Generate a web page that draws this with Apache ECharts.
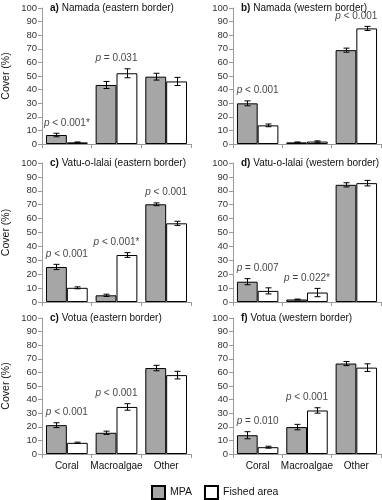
<!DOCTYPE html>
<html>
<head>
<meta charset="utf-8">
<script src="https://cdn.jsdelivr.net/npm/echarts@6/dist/echarts.min.js"></script>
<style>
html,body{margin:0;padding:0;background:#fff;}
#chart{width:382px;height:500px;}
</style>
</head>
<body>
<div id="chart"></div>
<script>
// ---- data ----
const categories = ['Coral', 'Macroalgae', 'Other'];
const yTicks = [0, 100, 10]; // min, max, interval

const titleTags = ['a)', 'b)', 'c)', 'd)', 'c)', 'f)'];
const titleTexts = ['Namada (eastern border)', 'Namada (western border)',
  'Vatu-o-lalai (eastern border)', 'Vatu-o-lalai (western border)',
  'Votua (eastern border)', 'Votua (western border)'];

// a) Namada east
const mpaA = [6.6, 43.4, 49.5],  mpaErrA = [1.3, 2.6, 2.5];
const fishA = [1.2, 52.0, 46.0], fishErrA = [0.3, 3.3, 3.0];
const pTextA = ['< 0.001*', '= 0.031', null];
// b) Namada west
const mpaB = [29.9, 1.2, 69.0],  mpaErrB = [1.8, 0.3, 1.5];
const fishB = [13.7, 1.8, 85.0], fishErrB = [1.0, 0.5, 1.5];
const pTextB = ['< 0.001', null, '< 0.001'];
// c) Vatu-o-lalai east
const mpaC = [25.2, 4.8, 70.3],  mpaErrC = [1.9, 0.8, 1.0];
const fishC = [10.2, 33.8, 56.6], fishErrC = [0.7, 1.7, 1.5];
const pTextC = ['< 0.001', '< 0.001*', '< 0.001'];
// d) Vatu-o-lalai west
const mpaD = [14.6, 1.8, 84.3],  mpaErrD = [2.2, 0.3, 1.5];
const fishD = [8.0, 6.8, 85.5],  fishErrD = [2.2, 3.0, 2.0];
const pTextD = ['= 0.007', '= 0.022*', null];
// e) Votua east
const mpaE = [21.2, 15.6, 63.2], mpaErrE = [1.8, 1.2, 2.0];
const fishE = [8.2, 34.6, 58.0], fishErrE = [0.5, 2.4, 2.8];
const pTextE = ['< 0.001', '< 0.001', null];
// f) Votua west
const mpaF = [13.8, 19.8, 66.5], mpaErrF = [2.6, 2.0, 1.5];
const fishF = [5.0, 32.0, 63.5], fishErrF = [0.7, 2.0, 2.8];
const pTextF = ['= 0.010', '< 0.001', null];

const panels = [
  [mpaA, mpaErrA, fishA, fishErrA, pTextA],
  [mpaB, mpaErrB, fishB, fishErrB, pTextB],
  [mpaC, mpaErrC, fishC, fishErrC, pTextC],
  [mpaD, mpaErrD, fishD, fishErrD, pTextD],
  [mpaE, mpaErrE, fishE, fishErrE, pTextE],
  [mpaF, mpaErrF, fishF, fishErrF, pTextF]
];

// ---- layout ----
const FONT = "'Liberation Sans', Arial, sans-serif";
const GRAY = '#a6a6a6';
const AXIS = '#9a9a9a';
const colLeft = [42, 233], colWidth = [149, 148];
const rowTop = [8, 163, 318], rowHeight = [136, 139, 136];
const titleTop = [3, 158, 313];

const grids = [], xAxes = [], yAxes = [], series = [], titles = [];

function errRender(params, api) {
  const ci = api.value(0), v = api.value(1), e = api.value(2), side = api.value(3);
  const band = api.size([1, 0])[0];
  const bw = band * 0.84 / 2;
  const c = api.coord([ci, v]);
  const cx = Math.round(c[0] + (side === 0 ? -bw / 2 : bw / 2)) + 0.5;
  const top = api.coord([ci, v + e])[1];
  const bot = api.coord([ci, Math.max(0, v - e)])[1];
  const cap = 3;
  const st = { stroke: '#000', lineWidth: 1 };
  return {
    type: 'group',
    children: [
      { type: 'line', shape: { x1: cx, y1: top, x2: cx, y2: bot }, style: st },
      { type: 'line', shape: { x1: cx - cap, y1: top, x2: cx + cap, y2: top }, style: st },
      { type: 'line', shape: { x1: cx - cap, y1: bot, x2: cx + cap, y2: bot }, style: st }
    ]
  };
}

panels.forEach((p, i) => {
  const row = Math.floor(i / 2), col = i % 2;
  const [mpa, mpaErr, fish, fishErr, pText] = p;
  grids.push({ left: colLeft[col], width: colWidth[col], top: rowTop[row], height: rowHeight[row] });
  titles.push({
    text: '{b|' + titleTags[i] + '} ' + titleTexts[i],
    left: colLeft[col] + 8, top: titleTop[row], padding: 0,
    textStyle: { fontFamily: FONT, fontSize: 10, fontWeight: 'normal', color: '#111',
      rich: { b: { fontFamily: FONT, fontSize: 10, fontWeight: 'bold', color: '#111' } } }
  });
  xAxes.push({
    type: 'category', gridIndex: i, data: categories,
    axisLine: { lineStyle: { color: AXIS, width: 1 } },
    axisTick: { show: true, length: 4, lineStyle: { color: AXIS } },
    axisLabel: { show: row === 2, interval: 0, hideOverlap: false, fontFamily: FONT, fontSize: 10, color: '#111', margin: 7 }
  });
  yAxes.push({
    type: 'value', gridIndex: i, min: yTicks[0], max: yTicks[1], interval: yTicks[2],
    name: col === 0 ? 'Cover (%)' : '', nameLocation: 'middle', nameGap: 30,
    nameTextStyle: { fontFamily: FONT, fontSize: 10.5, color: '#111' },
    axisLine: { show: true, lineStyle: { color: AXIS, width: 1 } },
    axisTick: { show: true, length: 4, lineStyle: { color: AXIS } },
    axisLabel: { fontFamily: FONT, fontSize: 9.5, color: '#333', margin: 5 },
    splitLine: { show: false }
  });
  series.push({
    name: 'MPA', type: 'bar', xAxisIndex: i, yAxisIndex: i, data: mpa,
    barGap: '0%', barCategoryGap: '16%',
    itemStyle: { color: GRAY, borderColor: '#000', borderWidth: 1 }
  });
  series.push({
    name: 'Fished area', type: 'bar', xAxisIndex: i, yAxisIndex: i, data: fish,
    barGap: '0%', barCategoryGap: '16%',
    itemStyle: { color: '#fff', borderColor: '#000', borderWidth: 1 }
  });
  const errData = [];
  categories.forEach((c, k) => {
    errData.push([k, mpa[k], mpaErr[k], 0]);
    errData.push([k, fish[k], fishErr[k], 1]);
  });
  series.push({
    type: 'custom', xAxisIndex: i, yAxisIndex: i, renderItem: errRender,
    data: errData, z: 5, silent: true
  });
  const lblData = [];
  pText.forEach((t, k) => {
    if (t) {
      const topV = Math.max(mpa[k] + mpaErr[k], fish[k] + fishErr[k]);
      lblData.push([k, topV + 7.5, t]);
    }
  });
  series.push({
    type: 'scatter', xAxisIndex: i, yAxisIndex: i, symbolSize: 0, data: lblData, silent: true,
    label: {
      show: true, position: 'inside', fontFamily: FONT, fontSize: 10, color: '#111',
      formatter: (q) => '{i|p} ' + q.data[2],
      rich: { i: { fontStyle: 'italic', fontFamily: FONT, fontSize: 10, color: '#111' } }
    }
  });
});

const chart = echarts.init(document.getElementById('chart'), null, { renderer: 'canvas' });
chart.setOption({
  animation: false,
  backgroundColor: '#fff',
  title: titles,
  grid: grids,
  xAxis: xAxes,
  yAxis: yAxes,
  legend: {
    data: ['MPA', 'Fished area'], left: 151, top: 485, padding: 0,
    icon: 'rect', itemWidth: 13, itemHeight: 13, itemGap: 12,
    textStyle: { fontFamily: FONT, fontSize: 10.5, color: '#111' }
  },
  series: series
});
</script>
</body>
</html>
